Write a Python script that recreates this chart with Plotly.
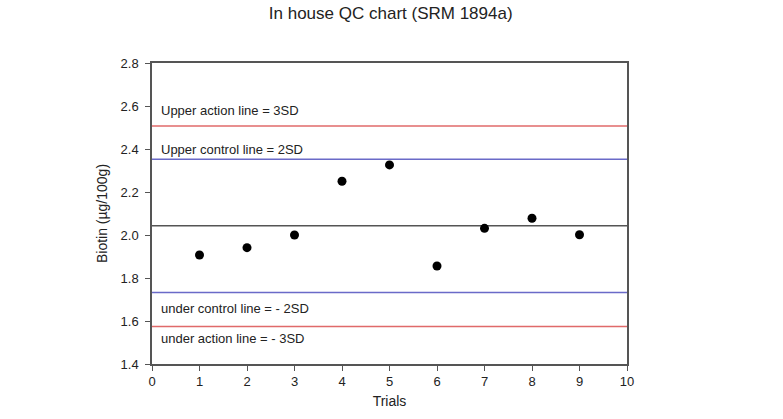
import plotly.graph_objects as go

trials = [1, 2, 3, 4, 5, 6, 7, 8, 9]
biotin = [1.907, 1.941, 2.000, 2.250, 2.326, 1.856, 2.031, 2.078, 2.001]

line_names = ["Upper action line = 3SD", "Upper control line = 2SD", "Mean",
              "under control line = - 2SD", "under action line = - 3SD"]
line_values = [2.507, 2.352, 2.043, 1.732, 1.574]
line_colors = ["#e06a6a", "#6a6ac8", "#555555", "#6a6ac8", "#e06a6a"]
label_y = [2.58, 2.40, None, 1.66, 1.52]

x_ticks = list(range(0, 11))
y_ticks = [1.4, 1.6, 1.8, 2.0, 2.2, 2.4, 2.6, 2.8]

fig = go.Figure()
for name, v, c in zip(line_names, line_values, line_colors):
    fig.add_trace(go.Scatter(x=[0, 10], y=[v, v], mode="lines",
                             line=dict(color=c, width=1.5), hoverinfo="skip",
                             showlegend=False))

fig.add_trace(go.Scatter(x=trials, y=biotin, mode="markers",
                         marker=dict(color="black", size=9), showlegend=False))

for name, ly in zip(line_names, label_y):
    if ly is None:
        continue
    fig.add_annotation(x=0.15, y=ly, text=name, showarrow=False,
                       xanchor="left", yanchor="middle",
                       font=dict(size=13, color="#222222"))

fig.update_layout(
    width=783, height=419,
    margin=dict(l=152, r=156, t=63, b=55),
    paper_bgcolor="white", plot_bgcolor="white",
    font=dict(family="Liberation Sans, Arial, sans-serif", color="#222222"),
    title=dict(text="In house QC chart (SRM 1894a)", x=0.499, xanchor="center",
               y=0.97, yanchor="middle", font=dict(size=17)),
)
fig.update_xaxes(range=[0, 10], tickvals=x_ticks, ticks="outside", ticklen=5,
                 tickcolor="#555555", showline=True, linecolor="#555555",
                 linewidth=1.5, mirror=True, showgrid=False, zeroline=False,
                 tickfont=dict(size=13),
                 title=dict(text="Trials", font=dict(size=14), standoff=8))
fig.update_yaxes(range=[1.4, 2.8], tickvals=y_ticks, tickformat=".1f",
                 ticks="outside", ticklen=5, tickcolor="#555555",
                 showline=True, linecolor="#555555", linewidth=1.5, mirror=True,
                 showgrid=False, zeroline=False, tickfont=dict(size=13),
                 ticklabelstandoff=4,
                 title=dict(text="Biotin (µg/100g)", font=dict(size=14), standoff=10))

fig.write_html("out.html")
